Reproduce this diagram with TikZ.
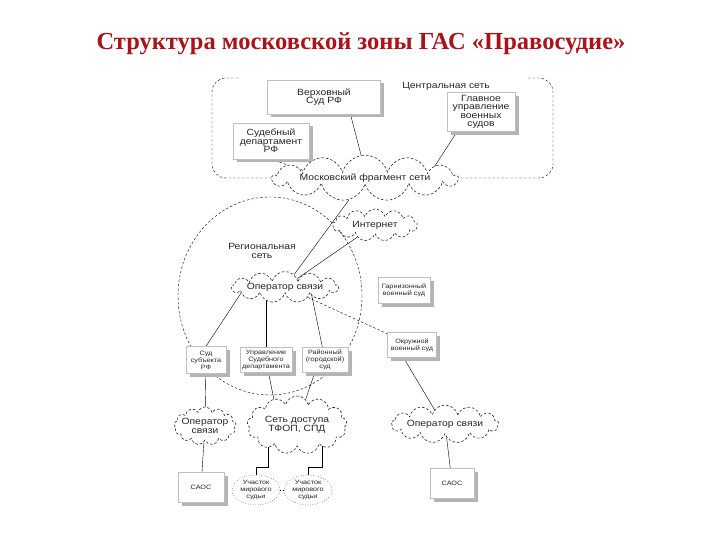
\documentclass[tikz,border=0pt]{standalone}
\usepackage{fontspec}
\setmainfont{Liberation Serif}
\newfontfamily\diagfont[FakeStretch=1.15]{Liberation Sans}
\usetikzlibrary{positioning, shapes.symbols, shapes.geometric, shadows, backgrounds}
\definecolor{TitleRed}{HTML}{A8141A}
\definecolor{ShadowGray}{HTML}{B4B4B4}
\newcommand\bigtxt{\diagfont\fontsize{9}{8.5}\selectfont}
\newcommand\smalltxt{\diagfont\fontsize{6.3}{7}\selectfont}

\tikzset{
  courtbox/.style={draw=black!25, line width=0.3pt, fill=white, align=center, inner sep=1pt,
    drop shadow={shadow xshift=3.5pt, shadow yshift=-3.5pt, fill=ShadowGray, opacity=1},
    text=black!85},
  netcloud/.style={cloud, cloud puffs=13, cloud ignores aspect, draw=black!85, line width=0.6pt,
    dash pattern=on 2.5pt off 2pt, fill=white, align=center, inner sep=0pt, text=black!85},
  netline/.style={dash pattern=on 2.5pt off 2pt},
  plotarea/.style={ellipse, draw=black!80, dotted, fill=white, align=center, inner sep=0pt,
    text=black!85, font=\smalltxt},
}

\begin{document}
\begin{tikzpicture}[x=1pt, y=-1pt, line width=0.5pt]
  \useasboundingbox (0,0) rectangle (720,540);
  \node[font=\fontsize{24.5}{26}\selectfont\bfseries, text=TitleRed] (title) at (361,44)
    {Структура московской зоны ГАС «Правосудие»};

  % central network
  \node[courtbox, font=\bigtxt, minimum width=113, minimum height=34] (verh) at (324,97) {Верховный\\Суд РФ};
  \node[courtbox, font=\bigtxt, minimum width=68, minimum height=39] (glav) at (481,112) {Главное\\управление\\военных\\судов};
  \node[courtbox, font=\bigtxt, minimum width=76, minimum height=36] (sudeb) at (271,141) {Судебный\\департамент\\РФ};
  \node[font=\bigtxt, text=black!85] (central) at (446,86) {Центральная сеть};
  \node[netcloud, font=\bigtxt, minimum width=185, minimum height=34] (mosk) at (365,178) {Московский фрагмент сети};

  % regional network
  \node[font=\bigtxt, align=center, text=black!85] (regnet) at (262,251) {Региональная\\сеть};
  \node[netcloud, font=\bigtxt, minimum width=85, minimum height=32] (inet) at (375,225) {Интернет};
  \node[netcloud, font=\bigtxt, minimum width=106, minimum height=30] (oper) at (285,287) {Оператор связи};
  \node[courtbox, font=\smalltxt, minimum width=52, minimum height=26] (garn) at (404,290) {Гарнизонный\\военный суд};
  \node[courtbox, font=\smalltxt, minimum width=49, minimum height=25] (okr) at (412,345) {Окружной\\военный суд};
  \node[courtbox, font=\smalltxt, minimum width=40, minimum height=27] (subj) at (206,360) {Суд\\субъекта\\РФ};
  \node[courtbox, font=\smalltxt, minimum width=52, minimum height=25] (upr) at (266,360) {Управление\\Судебного\\департамента};
  \node[courtbox, font=\smalltxt, minimum width=46, minimum height=25] (rayon) at (325,360) {Районный\\(городской)\\суд};

  % access level
  \node[netcloud, font=\bigtxt, inner xsep=-6pt, minimum width=62, minimum height=38] (operl) at (205,426) {Оператор\\связи};
  \node[netcloud, font=\bigtxt, minimum width=100, minimum height=58] (setka) at (297,425) {Сеть доступа\\ТФОП, СПД};
  \node[netcloud, font=\bigtxt, minimum width=106, minimum height=38] (operr) at (445,424) {Оператор связи};
  \node[courtbox, font=\smalltxt, minimum width=46, minimum height=30] (saosl) at (201,487) {САОС};
  \node[courtbox, font=\smalltxt, minimum width=44, minimum height=30] (saosr) at (452,483) {САОС};
  \node[plotarea, minimum width=48, minimum height=30] (uch1) at (256,490) {Участок\\мирового\\судьи};
  \node[plotarea, minimum width=48, minimum height=30] (uch2) at (308,490) {Участок\\мирового\\судьи};

  \begin{pgfonlayer}{background}
    \fill[white] (0,0) rectangle (720,540);
    \draw[netline, rounded corners=14pt] (238,78) -- (212,78) -- (212,178) -- (mosk.center);
    \draw[netline, rounded corners=14pt] (528,78) -- (553,78) -- (553,178) -- (mosk.center);
    \draw[netline] (270,296) ellipse [x radius=92pt, y radius=99pt];
    \draw ([xshift=22pt]verh.center) -- ([xshift=2pt]mosk.center);
    \draw ([xshift=-11pt]glav.center) -- ([xshift=62pt]mosk.center);
    \draw[netline] (sudeb.south) -- ([xshift=-40pt]mosk.center);
    \draw (mosk) -- (oper);
    \draw (inet) -- (oper);
    \draw[netline] (oper) -- (okr);
    \draw ([xshift=-16pt]okr.center) -- ([xshift=-2pt]operr.center);
    \draw ([xshift=-40pt]oper.center) -- (subj.north);
    \draw (upr.center |- oper.center) -- (upr.center);
    \draw ([xshift=25pt]oper.center) -- (rayon.center);
    \draw (subj) -- (operl);
    \draw (upr.center) -- ([xshift=-18pt]setka.center);
    \draw ([xshift=-6pt]rayon.center) -- (setka.center);
    \draw (operl) -- (saosl);
    \draw (operr) -- (saosr);
    \draw ([xshift=-29pt]setka.center) -- ++(0,42) -| (uch1.center);
    \draw ([xshift=25pt]setka.center) -- ++(0,42) -| (uch2.center);
  \end{pgfonlayer}
  \draw[dotted] (uch1) -- (uch2);
\end{tikzpicture}
\end{document}
